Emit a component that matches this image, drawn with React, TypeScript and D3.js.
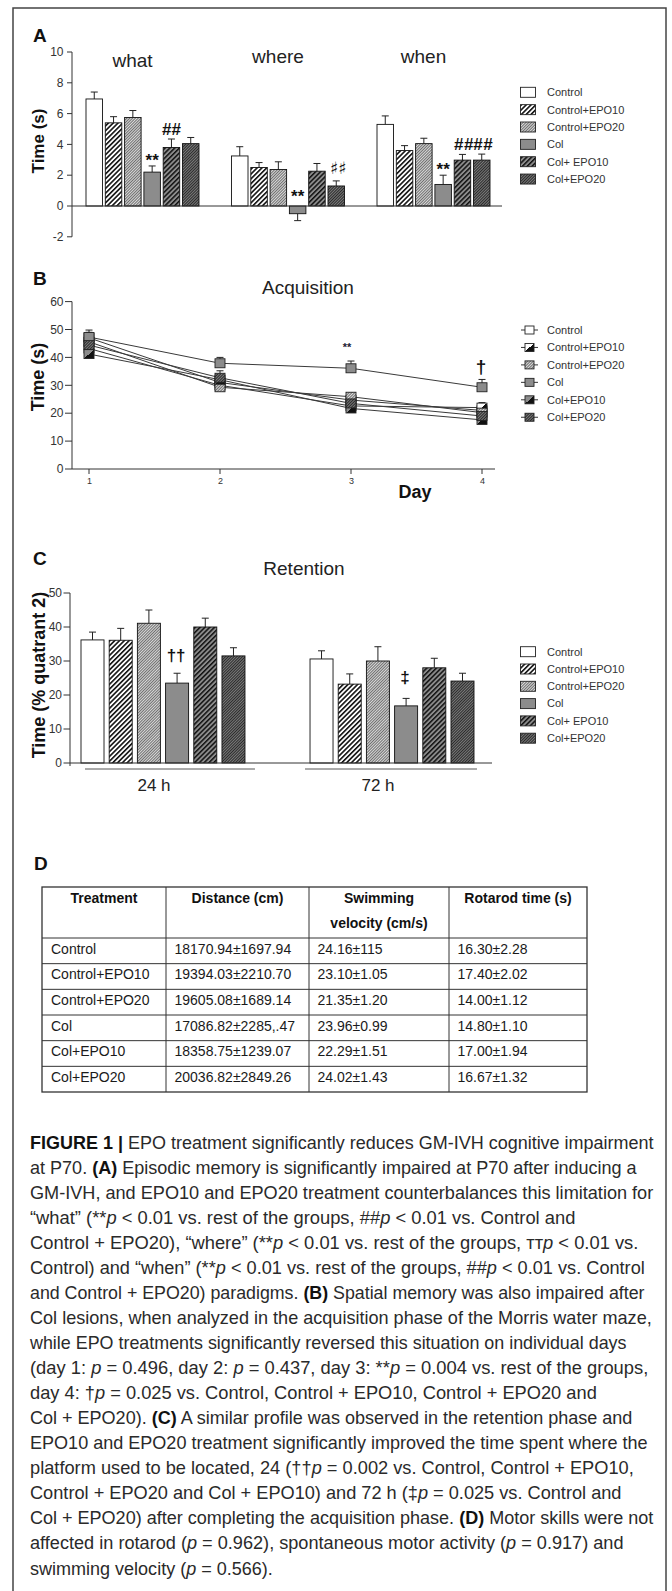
import React, { useLayoutEffect, useRef } from "react";
import * as d3 from "d3";

// ---------- shared ----------
const seriesKeys = ["Control", "Control+EPO10", "Control+EPO20", "Col", "Col+EPO10", "Col+EPO20"];
const barLegendLabels = ["Control", "Control+EPO10", "Control+EPO20", "Col", "Col+ EPO10", "Col+EPO20"];
const lineLegendLabels = ["Control", "Control+EPO10", "Control+EPO20", "Col", "Col+EPO10", "Col+EPO20"];

// ---------- Panel A: episodic memory ----------
const episodicGroups = ["what", "where", "when"];
const whatMeans = [6.95, 5.4, 5.75, 2.2, 3.8, 4.05];
const whatErr = [0.45, 0.4, 0.45, 0.4, 0.55, 0.4];
const whereMeans = [3.25, 2.5, 2.37, -0.5, 2.26, 1.3];
const whereErr = [0.6, 0.32, 0.5, 0.45, 0.5, 0.33];
const whenMeans = [5.3, 3.6, 4.05, 1.4, 2.98, 2.98];
const whenErr = [0.55, 0.32, 0.35, 0.6, 0.37, 0.39];
const episodicTicks = [-2, 0, 2, 4, 6, 8, 10];
const whatMarks = ["", "", "", "**", "##", ""];
const whereMarks = ["", "", "", "**", "", "♯♯"];
const whenMarks = ["", "", "", "**", "##", "##"];

// ---------- Panel B: acquisition ----------
const days = [1, 2, 3, 4];
const acqControl = [47, 31, 24.7, 21];
const acqControlEpo10 = [43.2, 30, 22.6, 22];
const acqControlEpo20 = [45.6, 29.3, 25.9, 20.2];
const acqCol = [47.3, 37.9, 36.1, 29.3];
const acqColEpo10 = [41.2, 32, 21.7, 17.6];
const acqColEpo20 = [44.4, 32.7, 23.5, 19];
const acqControlErr = [2.0, 1.6, 1.5, 1.5];
const acqControlEpo10Err = [1.8, 1.5, 1.4, 1.8];
const acqControlEpo20Err = [2.2, 1.7, 1.3, 1.6];
const acqColErr = [2.5, 2.1, 2.6, 2.8];
const acqColEpo10Err = [1.9, 1.8, 1.5, 1.4];
const acqColEpo20Err = [2.4, 2.5, 1.8, 1.7];
const acqTicks = [0, 10, 20, 30, 40, 50, 60];
const acqColMarks = ["", "", "**", "†"];

// ---------- Panel C: retention ----------
const retentionGroups = ["24 h", "72 h"];
const ret24Means = [36.2, 36.1, 41.1, 23.5, 40, 31.5];
const ret24Err = [2.3, 3.5, 3.9, 2.9, 2.6, 2.4];
const ret72Means = [30.6, 23.2, 30, 16.8, 28, 24.1];
const ret72Err = [2.4, 3.0, 4.2, 2.2, 2.8, 2.3];
const retentionTicks = [0, 10, 20, 30, 40, 50];
const ret24Marks = ["", "", "", "††", "", ""];
const ret72Marks = ["", "", "", "‡", "", ""];

// ---------- Panel D: table ----------
const tableHeaders = ["Treatment", "Distance (cm)", "Swimming|velocity (cm/s)", "Rotarod time (s)"];
const treatments = ["Control", "Control+EPO10", "Control+EPO20", "Col", "Col+EPO10", "Col+EPO20"];
const distances = ["18170.94±1697.94", "19394.03±2210.70", "19605.08±1689.14", "17086.82±2285,.47", "18358.75±1239.07", "20036.82±2849.26"];
const velocities = ["24.16±115", "23.10±1.05", "21.35±1.20", "23.96±0.99", "22.29±1.51", "24.02±1.43"];
const rotarodTimes = ["16.30±2.28", "17.40±2.02", "14.00±1.12", "14.80±1.10", "17.00±1.94", "16.67±1.32"];

// ---------- caption ----------
type Seg = [string, string];
const captionLines: Seg[][] = [
  [["b", "FIGURE 1 | "], ["", "EPO treatment significantly reduces GM-IVH cognitive impairment"]],
  [["", "at P70. "], ["b", "(A)"], ["", " Episodic memory is significantly impaired at P70 after inducing a"]],
  [["", "GM-IVH, and EPO10 and EPO20 treatment counterbalances this limitation for"]],
  [["", "“what” (**"], ["i", "p"], ["", " < 0.01 vs. rest of the groups, ##"], ["i", "p"], ["", " < 0.01 vs. Control and"]],
  [["", "Control + EPO20), “where” (**"], ["i", "p"], ["", " < 0.01 vs. rest of the groups, ᴛᴛ"], ["i", "p"], ["", " < 0.01 vs."]],
  [["", "Control) and “when” (**"], ["i", "p"], ["", " < 0.01 vs. rest of the groups, ##"], ["i", "p"], ["", " < 0.01 vs. Control"]],
  [["", "and Control + EPO20) paradigms. "], ["b", "(B)"], ["", " Spatial memory was also impaired after"]],
  [["", "Col lesions, when analyzed in the acquisition phase of the Morris water maze,"]],
  [["", "while EPO treatments significantly reversed this situation on individual days"]],
  [["", "(day 1: "], ["i", "p"], ["", " = 0.496, day 2: "], ["i", "p"], ["", " = 0.437, day 3: **"], ["i", "p"], ["", " = 0.004 vs. rest of the groups,"]],
  [["", "day 4: †"], ["i", "p"], ["", " = 0.025 vs. Control, Control + EPO10, Control + EPO20 and"]],
  [["", "Col + EPO20). "], ["b", "(C)"], ["", " A similar profile was observed in the retention phase and"]],
  [["", "EPO10 and EPO20 treatment significantly improved the time spent where the"]],
  [["", "platform used to be located, 24 (††"], ["i", "p"], ["", " = 0.002 vs. Control, Control + EPO10,"]],
  [["", "Control + EPO20 and Col + EPO10) and 72 h (‡"], ["i", "p"], ["", " = 0.025 vs. Control and"]],
  [["", "Col + EPO20) after completing the acquisition phase. "], ["b", "(D)"], ["", " Motor skills were not"]],
  [["", "affected in rotarod ("], ["i", "p"], ["", " = 0.962), spontaneous motor activity ("], ["i", "p"], ["", " = 0.917) and"]],
  [["", "swimming velocity ("], ["i", "p"], ["", " = 0.566)."]],
];
const captionWidths = [624, 607, 624, 546, 609, 615, 615, 622, 597, 619, 567, 603, 618, 604, 592, 624, 594, 243];

const FONT = "'Liberation Sans', Arial, Helvetica, sans-serif";
const CAP_FONT = "'Liberation Sans Narrow', 'Arial Narrow', 'Liberation Sans', Arial, sans-serif";
const INK = "#222";

const barFills = ["#ffffff", "url(#hWide)", "url(#hFine)", "#8c8c8c", "url(#hWideDark)", "url(#hFineDark)"];
const markerFills = ["#ffffff", "url(#gHalf)", "url(#hFine)", "#8c8c8c", "url(#gHalfDark)", "url(#hFineDark)"];

function BarLegend({ y0, step }: { y0: number; step: number }) {
  return (
    <g>
      {barLegendLabels.map((l, i) => {
        const cy = y0 + i * step;
        return (
          <g key={l}>
            <rect x={520.5} y={cy - 5} width={15} height={10} fill={barFills[i]} stroke="#222" strokeWidth={0.9} />
            <text x={547} y={cy} dy="0.35em" fontSize={11} fill="#333">{l}</text>
          </g>
        );
      })}
    </g>
  );
}

export default function App() {
  // Panel A scales
  const yA = d3.scaleLinear().domain([-2, 10]).range([236.8, 52]);
  const xA = d3.scaleBand<string>().domain(episodicGroups).range([86, 490]).paddingInner(0.2234);
  const xAin = d3.scaleBand<string>().domain(seriesKeys).range([0, xA.bandwidth()]).paddingInner(0.145);
  const aMeans = [whatMeans, whereMeans, whenMeans];
  const aErrs = [whatErr, whereErr, whenErr];
  const aMarks = [whatMarks, whereMarks, whenMarks];

  // Panel B scales
  const xB = d3.scaleLinear().domain([1, 4]).range([89, 482]);
  const yB = d3.scaleLinear().domain([0, 60]).range([469, 301.6]);
  const acqSeries = [acqControl, acqControlEpo10, acqControlEpo20, acqCol, acqColEpo10, acqColEpo20];
  const acqErrs = [acqControlErr, acqControlEpo10Err, acqControlEpo20Err, acqColErr, acqColEpo10Err, acqColEpo20Err];
  const line = d3
    .line<number>()
    .x((_, i) => xB(days[i]))
    .y((d) => yB(d));

  // Panel C scales
  const xC = d3.scaleBand<string>().domain(retentionGroups).range([81, 474]).paddingInner(0.284);
  const xCin = d3.scaleBand<string>().domain(seriesKeys).range([0, xC.bandwidth()]).paddingInner(0.184);
  const yC = d3.scaleLinear().domain([0, 50]).range([763, 593]);
  const cMeans = [ret24Means, ret72Means];
  const cErrs = [ret24Err, ret72Err];
  const cMarks = [ret24Marks, ret72Marks];

  // Table layout
  const colEdges = [42, 166, 309, 449, 587];
  const rowY = d3.scaleLinear().domain([0, 6]).range([938, 1092]);
  const tableCols = [treatments, distances, velocities, rotarodTimes];

  const capY = d3.scaleLinear().domain([0, 17]).range([1148.5, 1574.5]);

  const markOffset = (m: string) => (m === "**" ? 0 : m === "##" ? 4 : 7);

  // caption: scale each line horizontally so it spans the measured width
  const capRef = useRef<SVGGElement>(null);
  useLayoutEffect(() => {
    const g = capRef.current;
    if (!g) return;
    const texts = Array.from(g.querySelectorAll("text")) as SVGTextElement[];
    texts.forEach((t, i) => {
      const natural = t.getComputedTextLength();
      if (natural > 0) {
        const s = captionWidths[i] / natural;
        t.setAttribute("transform", `translate(30,${capY(i)}) scale(${s.toFixed(4)},1)`);
      }
    });
  }, []);

  return (
    <svg
      width={672}
      height={1591}
      viewBox="0 0 672 1591"
      style={{ position: "absolute", left: 0, top: 0, background: "#fff" }}
      fontFamily={FONT}
    >
      <defs>
        <pattern id="hWide" patternUnits="userSpaceOnUse" width={3.4} height={3.4} patternTransform="rotate(45)">
          <rect width={3.4} height={3.4} fill="#fff" />
          <rect width={1.6} height={3.4} fill="#111" />
        </pattern>
        <pattern id="hWideDark" patternUnits="userSpaceOnUse" width={3.4} height={3.4} patternTransform="rotate(45)">
          <rect width={3.4} height={3.4} fill="#8c8c8c" />
          <rect width={1.5} height={3.4} fill="#111" />
        </pattern>
        <pattern id="hFine" patternUnits="userSpaceOnUse" width={2} height={2} patternTransform="rotate(45)">
          <rect width={2} height={2} fill="#d9d9d9" />
          <rect width={0.8} height={2} fill="#555" />
        </pattern>
        <pattern id="hFineDark" patternUnits="userSpaceOnUse" width={2} height={2} patternTransform="rotate(45)">
          <rect width={2} height={2} fill="#7a7a7a" />
          <rect width={0.9} height={2} fill="#222" />
        </pattern>
        <linearGradient id="gHalf" x1="0" y1="0" x2="1" y2="1">
          <stop offset="0" stopColor="#fff" />
          <stop offset="0.5" stopColor="#fff" />
          <stop offset="0.5" stopColor="#111" />
          <stop offset="1" stopColor="#111" />
        </linearGradient>
        <linearGradient id="gHalfDark" x1="0" y1="0" x2="1" y2="1">
          <stop offset="0" stopColor="#8c8c8c" />
          <stop offset="0.5" stopColor="#8c8c8c" />
          <stop offset="0.5" stopColor="#111" />
          <stop offset="1" stopColor="#111" />
        </linearGradient>
      </defs>

      {/* outer frame */}
      <rect x={13} y={8} width={653} height={1600} fill="none" stroke="#444" strokeWidth={1.5} />

      {/* ================= Panel A ================= */}
      <text x={33} y={42} fontSize={19} fontWeight="bold" fill="#111">A</text>
      <text transform="translate(44,141) rotate(-90)" textAnchor="middle" fontSize={17} fontWeight="bold" fill="#111">Time (s)</text>
      <line x1={72} x2={72} y1={yA(10)} y2={yA(-2)} stroke="#333" strokeWidth={1} />
      {episodicTicks.map((t) => (
        <g key={t}>
          <line x1={67} x2={72} y1={yA(t)} y2={yA(t)} stroke="#333" />
          <text x={63.5} y={yA(t)} dy="0.35em" textAnchor="end" fontSize={12} fill="#333">{t}</text>
        </g>
      ))}
      {episodicGroups.map((g, gi) => (
        <g key={g} transform={`translate(${xA(g)},0)`}>
          <text x={xA.bandwidth() / 2 - 10} y={gi === 0 ? 66.5 : 63} textAnchor="middle" fontSize={19} fill={INK}>{g}</text>
          {seriesKeys.map((s, si) => {
            const v = aMeans[gi][si];
            const e = aErrs[gi][si];
            const x = xAin(s)!;
            const bw = xAin.bandwidth();
            const cx = x + bw / 2;
            const yTop = Math.min(yA(v), yA(0));
            const h = Math.abs(yA(v) - yA(0));
            const errEnd = v >= 0 ? v + e : v - e;
            const m = aMarks[gi][si];
            const baseY = v >= 0 ? yA(v + e) - markOffset(m) : yA(0) - 4;
            const sharp = m === "♯♯";
            return (
              <g key={s}>
                <line x1={cx} x2={cx} y1={yA(v)} y2={yA(errEnd)} stroke="#222" />
                <line x1={cx - 3.5} x2={cx + 3.5} y1={yA(errEnd)} y2={yA(errEnd)} stroke="#222" />
                <rect x={x} y={yTop} width={bw} height={h} fill={barFills[si]} stroke="#111" strokeWidth={0.9} />
                {m && (
                  <text
                    x={cx + (m === "##" && gi === 2 ? 1.5 : 0) + (sharp ? 2 : 0)}
                    y={baseY}
                    textAnchor="middle"
                    fontSize={sharp ? 17 : 17}
                    fontWeight="bold"
                    fontFamily={sharp ? "'DejaVu Sans', sans-serif" : FONT}
                    fill="#111"
                    letterSpacing={m === "##" && gi === 2 ? 0.5 : 0}
                  >
                    {m}
                  </text>
                )}
              </g>
            );
          })}
        </g>
      ))}
      <line x1={72} x2={502} y1={yA(0)} y2={yA(0)} stroke="#333" strokeWidth={1} />
      <BarLegend y0={92.3} step={17.35} />

      {/* ================= Panel B ================= */}
      <text x={33} y={285} fontSize={19} fontWeight="bold" fill="#111">B</text>
      <text x={308} y={294} textAnchor="middle" fontSize={19} fill={INK}>Acquisition</text>
      <text transform="translate(44,377) rotate(-90)" textAnchor="middle" fontSize={18} fontWeight="bold" fill="#111">Time (s)</text>
      <line x1={72} x2={72} y1={yB(60)} y2={yB(0)} stroke="#333" />
      {acqTicks.map((t) => (
        <g key={t}>
          <line x1={65} x2={72} y1={yB(t)} y2={yB(t)} stroke="#333" />
          <text x={63.5} y={yB(t)} dy="0.35em" textAnchor="end" fontSize={12} fill="#333">{t}</text>
        </g>
      ))}
      <line x1={72} x2={495} y1={yB(0)} y2={yB(0)} stroke="#333" />
      {days.map((d) => (
        <g key={d}>
          <line x1={xB(d)} x2={xB(d)} y1={yB(0)} y2={yB(0) + 5} stroke="#333" />
          <text x={xB(d) + 0.5} y={yB(0) + 15} textAnchor="middle" fontSize={9} fill="#333">{d}</text>
        </g>
      ))}
      <text x={415} y={498} textAnchor="middle" fontSize={18} fontWeight="bold" fill="#111">Day</text>
      {acqSeries.map((s, si) => (
        <path key={si} d={line(s) || ""} fill="none" stroke="#3a3a3a" strokeWidth={1} />
      ))}
      {acqSeries.map((s, si) =>
        s.map((v, di) => {
          const cx = xB(days[di]);
          const ye = yB(v + acqErrs[si][di]);
          return (
            <g key={`e${si}-${di}`}>
              <line x1={cx} x2={cx} y1={yB(v)} y2={ye} stroke="#222" />
              <line x1={cx - 3.5} x2={cx + 3.5} y1={ye} y2={ye} stroke="#222" />
            </g>
          );
        })
      )}
      {acqSeries.map((s, si) =>
        s.map((v, di) => (
          <rect
            key={`m${si}-${di}`}
            x={xB(days[di]) - 5}
            y={yB(v) - 4.5}
            width={10}
            height={9}
            fill={markerFills[si]}
            stroke="#222"
            strokeWidth={0.9}
          />
        ))
      )}
      {acqColMarks.map((m, di) =>
        m ? (
          <text
            key={`am${di}`}
            x={xB(days[di]) - (m === "**" ? 4 : 1)}
            y={yB(acqCol[di] + acqColErr[di]) - (m === "**" ? 10 : 6)}
            textAnchor="middle"
            fontSize={m === "**" ? 11 : 19}
            fontWeight="bold"
            fill={m === "**" ? "#223" : "#111"}
          >
            {m}
          </text>
        ) : null
      )}
      {lineLegendLabels.map((l, i) => {
        const cy = 330 + i * 17.45;
        return (
          <g key={l}>
            <line x1={521} x2={538} y1={cy} y2={cy} stroke="#333" />
            <rect x={525} y={cy - 4} width={9} height={8} fill={markerFills[i]} stroke="#222" strokeWidth={0.9} />
            <text x={547} y={cy} dy="0.35em" fontSize={11} fill="#333">{l}</text>
          </g>
        );
      })}

      {/* ================= Panel C ================= */}
      <text x={33} y={565} fontSize={19} fontWeight="bold" fill="#111">C</text>
      <text x={304} y={575} textAnchor="middle" fontSize={19} fill={INK}>Retention</text>
      <text transform="translate(45,675) rotate(-90)" textAnchor="middle" fontSize={18} fontWeight="bold" fill="#111">Time (% quatrant 2)</text>
      <line x1={70} x2={70} y1={yC(50)} y2={yC(0) + 3} stroke="#333" />
      {retentionTicks.map((t) => (
        <g key={t}>
          <line x1={63.5} x2={70} y1={yC(t)} y2={yC(t)} stroke="#333" />
          <text x={62} y={yC(t)} dy="0.35em" textAnchor="end" fontSize={12} fill="#333">{t}</text>
        </g>
      ))}
      {retentionGroups.map((g, gi) => (
        <g key={g} transform={`translate(${xC(g)},0)`}>
          {seriesKeys.map((s, si) => {
            const v = cMeans[gi][si];
            const e = cErrs[gi][si];
            const x = xCin(s)!;
            const bw = xCin.bandwidth();
            const cx = x + bw / 2;
            const m = cMarks[gi][si];
            return (
              <g key={s}>
                <line x1={cx} x2={cx} y1={yC(v)} y2={yC(v + e)} stroke="#222" />
                <line x1={cx - 3.5} x2={cx + 3.5} y1={yC(v + e)} y2={yC(v + e)} stroke="#222" />
                <rect x={x} y={yC(v)} width={bw} height={yC(0) - yC(v)} fill={barFills[si]} stroke="#111" strokeWidth={0.9} />
                {m && (
                  <text x={cx - 1} y={yC(v + e) - (m === "‡" ? 15 : 12)} textAnchor="middle" fontSize={17} fontWeight="bold" fill="#111">
                    {m}
                  </text>
                )}
              </g>
            );
          })}
          <line x1={gi === 0 ? 4 : -5} x2={xC.bandwidth() + (gi === 0 ? 10 : 3)} y1={769} y2={769} stroke="#555" />
          <text x={xC.bandwidth() / 2 + (gi === 0 ? -9 : -14)} y={791} textAnchor="middle" fontSize={17} fill={INK}>{g}</text>
        </g>
      ))}
      <line x1={70} x2={492} y1={yC(0)} y2={yC(0)} stroke="#333" />
      <BarLegend y0={651.7} step={17.3} />

      {/* ================= Panel D ================= */}
      <text x={34} y={870} fontSize={19} fontWeight="bold" fill="#111">D</text>
      <g stroke="#333" strokeWidth={1}>
        <rect x={colEdges[0]} y={887} width={colEdges[4] - colEdges[0]} height={1092 - 887} fill="none" strokeWidth={1.3} />
        {colEdges.slice(1, 4).map((x) => (
          <line key={x} x1={x} x2={x} y1={887} y2={1092} />
        ))}
        {d3.range(0, 6).map((i) => (
          <line key={i} x1={colEdges[0]} x2={colEdges[4]} y1={rowY(i)} y2={rowY(i)} />
        ))}
      </g>
      {tableHeaders.map((h, ci) => {
        const cx = (colEdges[ci] + colEdges[ci + 1]) / 2;
        const parts = h.split("|");
        return (
          <g key={h}>
            {parts.map((p, pi) => (
              <text key={p} x={cx} y={903 + pi * 24.5} textAnchor="middle" fontSize={14} fontWeight="bold" fill="#111">
                {p}
              </text>
            ))}
          </g>
        );
      })}
      {tableCols.map((col, ci) =>
        col.map((val, ri) => (
          <text key={`${ci}-${ri}`} x={colEdges[ci] + (ci === 0 ? 9 : 8.5)} y={rowY(ri) + 15.5} fontSize={14} fill="#1a1a1a">
            {val}
          </text>
        ))
      )}

      {/* ================= Caption ================= */}
      <g ref={capRef}>
        {captionLines.map((segs, li) => (
          <text
            key={li}
            transform={`translate(30,${capY(li)})`}
            fontSize={18.5}
            fontFamily={CAP_FONT}
            fill="#2a2a2a"
            style={{ whiteSpace: "pre" }}
          >
            {segs.map(([st, t], si) => (
              <tspan
                key={si}
                fontWeight={st === "b" ? "bold" : "normal"}
                fontStyle={st === "i" ? "italic" : "normal"}
                fill={st === "b" ? "#111" : undefined}
              >
                {t}
              </tspan>
            ))}
          </text>
        ))}
      </g>
    </svg>
  );
}
